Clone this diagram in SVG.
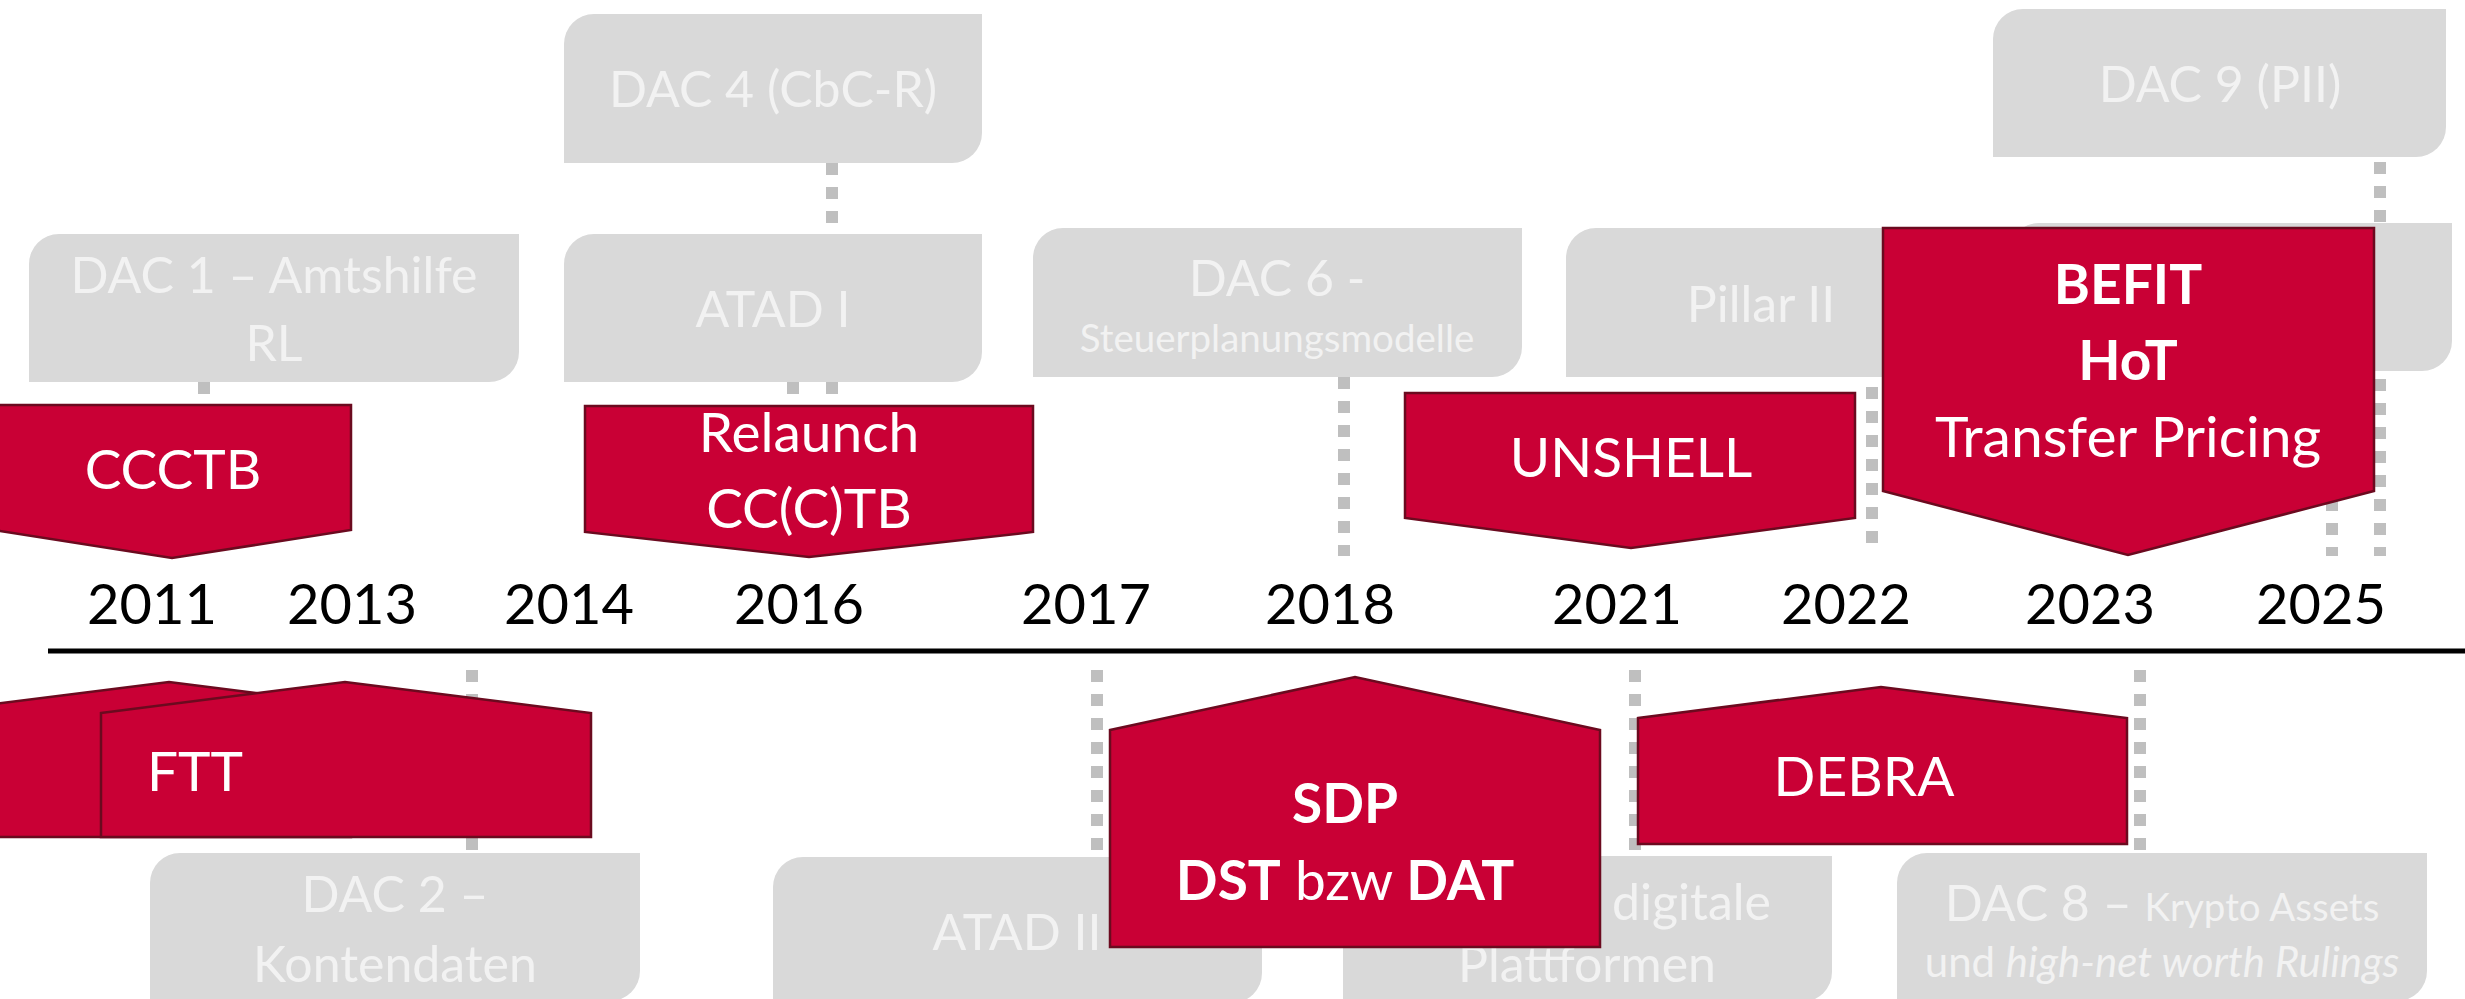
<svg xmlns="http://www.w3.org/2000/svg" width="2465" height="999" viewBox="0 0 2465 999">
<style>
.box{fill:#d9d9d9}
.gt{fill:#f2f2f2;font-family:Lato,"Liberation Sans",sans-serif;font-size:50px;text-anchor:middle}
.gs{font-size:38.5px}
.red{fill:#c90035;stroke:#6b0a1f;stroke-width:2.5;stroke-linejoin:miter}
.rt{fill:#ffffff;font-family:Lato,"Liberation Sans",sans-serif;font-size:55px;text-anchor:middle}
.yr{fill:#000000;font-family:Lato,"Liberation Sans",sans-serif;font-size:56px;text-anchor:middle}
.con line{stroke:#bfbfbf;stroke-width:12;stroke-dasharray:12 12;fill:none}
</style>
<rect width="2465" height="999" fill="#ffffff"/>
<g id="connectors" class="con">
<line x1="204" y1="382" x2="204" y2="405"/>
<line x1="832" y1="163" x2="832" y2="234"/>
<line x1="793" y1="382" x2="793" y2="406"/>
<line x1="832" y1="382" x2="832" y2="406"/>
<line x1="1344" y1="377" x2="1344" y2="556"/>
<line x1="1872" y1="387" x2="1872" y2="545"/>
<line x1="2380" y1="162" x2="2380" y2="223"/>
<line x1="2380" y1="379" x2="2380" y2="556"/>
<line x1="2332" y1="379" x2="2332" y2="556"/>
<line x1="472" y1="670" x2="472" y2="853"/>
<line x1="1097" y1="670" x2="1097" y2="857"/>
<line x1="1635" y1="670" x2="1635" y2="856"/>
<line x1="2140" y1="670" x2="2140" y2="853"/>
</g>
<line id="timeline" x1="48" y1="651" x2="2465" y2="651" stroke="#000000" stroke-width="5"/>
<g id="years">
<text class="yr" x="152" y="624">2011</text>
<text class="yr" x="352" y="624">2013</text>
<text class="yr" x="569" y="624">2014</text>
<text class="yr" x="799" y="624">2016</text>
<text class="yr" x="1086" y="624">2017</text>
<text class="yr" x="1330" y="624">2018</text>
<text class="yr" x="1617" y="624">2021</text>
<text class="yr" x="1846" y="624">2022</text>
<text class="yr" x="2090" y="624">2023</text>
<text class="yr" x="2321" y="624">2025</text>
</g>
<g id="dac4"><path class="box" d="M594,14H982V133A30,30 0 0 1 952,163H564V44A30,30 0 0 1 594,14Z"/><text class="gt" x="773" y="107">DAC 4 (CbC-R)</text></g>
<g id="dac1"><path class="box" d="M59,234H519V352A30,30 0 0 1 489,382H29V264A30,30 0 0 1 59,234Z"/><text class="gt" x="274" y="293">DAC 1 – Amtshilfe</text><text class="gt" x="274" y="361">RL</text></g>
<g id="atad1"><path class="box" d="M594,234H982V352A30,30 0 0 1 952,382H564V264A30,30 0 0 1 594,234Z"/><text class="gt" x="773" y="327">ATAD I</text></g>
<g id="dac6"><path class="box" d="M1063,228H1522V347A30,30 0 0 1 1492,377H1033V258A30,30 0 0 1 1063,228Z"/><text class="gt" x="1277" y="296">DAC 6 -</text><text class="gt gs" x="1277" y="352">Steuerplanungsmodelle</text></g>
<g id="pillar2"><path class="box" d="M1596,228H1956V347A30,30 0 0 1 1926,377H1566V258A30,30 0 0 1 1596,228Z"/><text class="gt" x="1761" y="322">Pillar II</text></g>
<g id="dac9"><path class="box" d="M2023,9H2446V127A30,30 0 0 1 2416,157H1993V39A30,30 0 0 1 2023,9Z"/><text class="gt" x="2220" y="102">DAC 9 (PII)</text></g>
<g id="box2023"><path class="box" d="M2039,223H2452V341A30,30 0 0 1 2422,371H2009V253A30,30 0 0 1 2039,223Z"/></g>
<g id="dac2"><path class="box" d="M180,853H640V971A30,30 0 0 1 610,1001H150V883A30,30 0 0 1 180,853Z"/><text class="gt" x="395" y="912">DAC 2 –</text><text class="gt" x="395" y="982" font-size="52">Kontendaten</text></g>
<g id="atad2"><path class="box" d="M803,857H1262V973A30,30 0 0 1 1232,1003H773V887A30,30 0 0 1 803,857Z"/><text class="gt" x="1017" y="950">ATAD II</text></g>
<g id="dac7"><path class="box" d="M1373,856H1832V972A30,30 0 0 1 1802,1002H1343V886A30,30 0 0 1 1373,856Z"/><text class="gt" x="1612" y="920" style="text-anchor:start">digitale</text><text class="gt" x="1587" y="982">Plattformen</text></g>
<g id="dac8"><path class="box" d="M1927,853H2427V971A30,30 0 0 1 2397,1001H1897V883A30,30 0 0 1 1927,853Z"/><text class="gt" x="2162" y="921">DAC 8 – <tspan class="gs">Krypto Assets</tspan></text><text class="gt" x="2162" y="977" style="font-size:42px">und <tspan font-style="italic">high-net worth Rulings</tspan></text></g>
<g id="ccctb"><polygon class="red" points="-7,405 351,405 351,530 172,558 -7,530"/><text class="rt" x="173" y="489">CCCTB</text></g>
<g id="relaunch"><polygon class="red" points="585,406 1033,406 1033,532 809,557 585,532"/><text class="rt" x="809" y="452">Relaunch</text><text class="rt" x="809" y="528">CC(C)TB</text></g>
<g id="unshell"><polygon class="red" points="1405,393 1855,393 1855,518 1631,548 1405,518"/><text class="rt" x="1631" y="477">UNSHELL</text></g>
<g id="befit"><polygon class="red" points="1883,228 2374,228 2374,491 2128,555 1883,491"/><text class="rt" x="2128" y="304" font-weight="bold">BEFIT</text><text class="rt" x="2128" y="380" font-weight="bold">HoT</text><text class="rt" x="2128" y="457" style="font-size:57px">Transfer Pricing</text></g>
<g id="ftt-back"><polygon class="red" points="-13,705 169,682 351,705 351,837 -13,837"/></g>
<g id="ftt"><polygon class="red" points="101,713 345,682 591,713 591,837 101,837"/><text class="rt" x="147" y="791" style="text-anchor:start">FTT</text></g>
<g id="sdp"><polygon class="red" points="1110,730 1355,677 1600,730 1600,947 1110,947"/><text class="rt" x="1345" y="823" font-weight="bold">SDP</text><text class="rt" x="1345" y="900"><tspan font-weight="bold">DST</tspan> bzw <tspan font-weight="bold">DAT</tspan></text></g>
<g id="debra"><polygon class="red" points="1638,718 1881,687 2127,718 2127,844 1638,844"/><text class="rt" x="1864" y="796">DEBRA</text></g>
</svg>
